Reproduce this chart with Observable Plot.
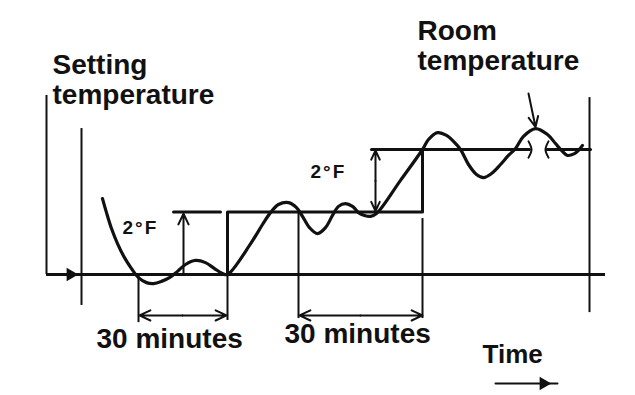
<!DOCTYPE html>
<html>
<head>
<meta charset="utf-8">
<script src="https://cdn.jsdelivr.net/npm/d3@7"></script>
<script src="https://cdn.jsdelivr.net/npm/@observablehq/plot@0.6"></script>
<style>
  html, body { margin: 0; padding: 0; background: #fff; }
  #chart svg { display: block; }
</style>
</head>
<body>
<div id="chart"></div>
<script>
// Diagram units: x = time (diagram units), t = temperature offset in °F from first setting
const curveX = [102,106,111,117,124,131,138,146,153,161,169,177,185,195,205,214,222,227,250,262,270,278,288,296,302,309,317,325,332,338,345,352,358,364,370,376,400,422,428,437,446,453,460,468,476,483,491,500,508,515,523,535,547,555,561,567,574,578,582];
const curveT = [2.43,1.98,1.47,0.99,0.54,0.19,-0.10,-0.26,-0.29,-0.22,-0.10,0.10,0.32,0.45,0.38,0.19,0.03,0,0.98,1.6,1.98,2.24,2.30,2.14,1.86,1.50,1.31,1.50,1.89,2.18,2.27,2.18,1.98,1.89,1.86,1.95,3.01,4.0,4.32,4.54,4.45,4.26,4.0,3.52,3.2,3.10,3.23,3.52,3.81,4.03,4.42,4.67,4.48,4.19,3.97,3.81,3.87,3.97,4.13];

// Setting temperature step line
const setX = [227,227,422,422,529];
const setT = [0,2,2,4,4];
const setX2 = [546,590];
const setT2 = [4,4];

// Short reference lines for the 2°F marks
const refX1 = [173,220], refT1 = [2,2];
const refX2 = [371,422], refT2 = [4,4];

// Vertical guide lines
const guideX   = [46,81,138,227,298,422,589];
const guideTop = [5.73,4.67,0,0,1.98,1.79,5.66];
const guideBot = [0,-0.99,-1.54,-1.47,-1.41,-1.41,-1.22];

// Break marks on the setting line
const breakA = {x:[528,531,528], t:[4.26,4.0,3.74]};
const breakB = {x:[548,545,548], t:[4.26,4.0,3.74]};

// Arrows (line + head)
const arrows = [
  {x1:183, y1:0, x2:183, y2:1.95},       // 2°F (first)
  {x1:375, y1:3, x2:375, y2:3.97},       // 2°F (second) up
  {x1:375, y1:3, x2:375, y2:2.03},       // 2°F (second) down
  {x1:182, y1:-1.31, x2:139, y2:-1.31},  // 30 minutes (first)
  {x1:182, y1:-1.31, x2:226, y2:-1.31},
  {x1:360, y1:-1.31, x2:299, y2:-1.31},  // 30 minutes (second)
  {x1:360, y1:-1.31, x2:422, y2:-1.31},
  {x1:528, y1:5.79, x2:535, y2:4.72}     // room temperature pointer
];
// Time arrow line and filled heads
const timeX = [495, 557], timeT = [-3.49, -3.49];
const headX = [70, 543], headT = [0, -3.49];

// Labels
const labelText = ["Setting","temperature","Room","temperature","2°F","2°F","30 minutes","30 minutes","Time"];
const labelX    = [52,52,417,417,122,310,96,284,482];
const labelT    = [6.43,5.47,7.49,6.53,1.31,3.10,-2.34,-2.18,-2.82];
const labelSize = [28,28,28,28,19,19,28,28,26];

const labels = labelText.map((s,i)=>({s, x:labelX[i], t:labelT[i], size:labelSize[i]}));
const curve = curveX.map((x,i)=>({x, t:curveT[i]}));
const guides = guideX.map((x,i)=>({x, y1:guideTop[i], y2:guideBot[i]}));
const heads = headX.map((x,i)=>({x, t:headT[i]}));

const ink = "#111";
const font = "Liberation Sans, Arial, Helvetica, sans-serif";

const plot = Plot.plot({
  width: 635,
  height: 395,
  margin: 0,
  style: {background: "#fff", overflow: "visible"},
  x: {domain: [0, 635], axis: null},
  y: {domain: [-121/31.25, 274/31.25], axis: null},
  marks: [
    Plot.ruleY([0], {x1: 46, x2: 605, stroke: ink, strokeWidth: 3}),
    Plot.ruleX(guides, {x: "x", y1: "y1", y2: "y2", stroke: ink, strokeWidth: 2}),
    Plot.line(setX.map((x,i)=>({x, t:setT[i]})), {x:"x", y:"t", stroke: ink, strokeWidth: 3}),
    Plot.line(setX2.map((x,i)=>({x, t:setT2[i]})), {x:"x", y:"t", stroke: ink, strokeWidth: 3}),
    Plot.line(refX1.map((x,i)=>({x, t:refT1[i]})), {x:"x", y:"t", stroke: ink, strokeWidth: 3}),
    Plot.line(refX2.map((x,i)=>({x, t:refT2[i]})), {x:"x", y:"t", stroke: ink, strokeWidth: 3}),
    Plot.line(breakA.x.map((x,i)=>({x, t:breakA.t[i]})), {x:"x", y:"t", stroke: ink, strokeWidth: 2, curve: "natural"}),
    Plot.line(breakB.x.map((x,i)=>({x, t:breakB.t[i]})), {x:"x", y:"t", stroke: ink, strokeWidth: 2, curve: "natural"}),
    Plot.line(curve, {x: "x", y: "t", stroke: ink, strokeWidth: 3.2, curve: "catmull-rom"}),
    Plot.arrow(arrows, {x1:"x1", y1:"y1", x2:"x2", y2:"y2", stroke: ink, strokeWidth: 2, headLength: 9, headAngle: 50}),
    Plot.line(timeX.map((x,i)=>({x, t:timeT[i]})), {x:"x", y:"t", stroke: ink, strokeWidth: 2}),
    Plot.dot(heads, {x:"x", y:"t", symbol: "triangle", rotate: 90, r: 5, fill: ink, stroke: "none"}),
    Plot.text(labels, {x:"x", y:"t", text:"s", fontSize: d => d.size, textAnchor: "start", lineAnchor: "bottom",
      fill: ink, fontWeight: "bold", fontFamily: font})
  ]
});
d3.select(plot).selectAll("text").filter(function() { return this.textContent === "2°F"; })
  .attr("letter-spacing", "2px");
document.getElementById("chart").appendChild(plot);
</script>
</body>
</html>
